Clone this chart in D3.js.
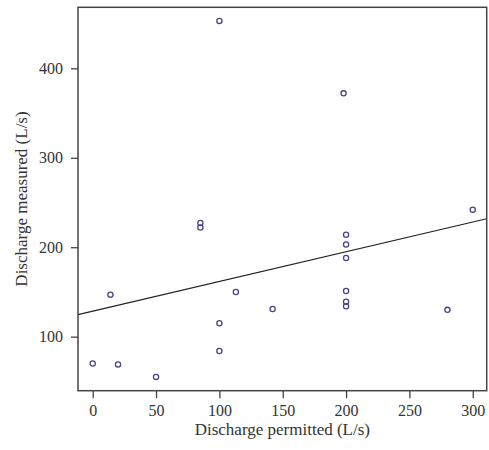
<!DOCTYPE html>
<html>
<head>
<meta charset="utf-8">
<script src="https://cdn.jsdelivr.net/npm/d3@7"></script>
<style>
  body { margin: 0; background: #fff; }
  text { font-family: "Liberation Serif", "DejaVu Serif", serif; fill: #333; }
</style>
</head>
<body>
<script>
// discharge permitted (L/s) and measured (L/s)
var permitted = [100, 198, 300, 85, 85, 14, 113, 100, 100, 0, 20, 50,
                 200, 200, 200, 200, 200, 200, 142, 280];
var measured  = [453, 372, 242, 227, 222, 147, 150, 115, 84, 70, 69, 55,
                 214, 203, 188, 151, 139, 134, 131, 130];
var xTicks = [0, 50, 100, 150, 200, 250, 300];
var yTicks = [100, 200, 300, 400];

var width = 489, height = 450;
var plotL = 78, plotT = 7.3, plotR = 486.7, plotB = 390.7;

var svg = d3.select("body")
    .append("svg")
    .attr("width", width)
    .attr("height", height);

var x = d3.scaleLinear().domain([-11.6, 311]).range([plotL, plotR]);
var y = d3.scaleLinear().domain([39.6, 468.2]).range([plotB, plotT]);

// least squares line through the points
var mx = d3.mean(permitted), my = d3.mean(measured);
var sxy = d3.sum(permitted, function(v, i) { return (v - mx) * (measured[i] - my); });
var sxx = d3.sum(permitted, function(v) { return (v - mx) * (v - mx); });
var slope = sxy / sxx, intercept = my - slope * mx;

var xAxis = svg.append("g")
    .attr("transform", "translate(0," + plotB + ")")
    .call(d3.axisBottom(x).tickValues(xTicks).tickSize(7.5).tickPadding(6).tickSizeOuter(0));
var yAxis = svg.append("g")
    .attr("transform", "translate(" + plotL + ",0)")
    .call(d3.axisLeft(y).tickValues(yTicks).tickSize(7).tickPadding(8).tickSizeOuter(0));

[xAxis, yAxis].forEach(function(a) {
    a.select(".domain").remove();
    a.selectAll(".tick line").attr("stroke", "#444").attr("stroke-width", 1.3);
    a.selectAll(".tick text")
        .attr("font-size", 16)
        .attr("font-family", "Liberation Serif, serif")
        .attr("fill", "#333");
});

// regression line across the whole frame
var x0 = x.domain()[0], x1 = x.domain()[1];
svg.append("line")
    .attr("x1", x(x0)).attr("y1", y(intercept + slope * x0))
    .attr("x2", x(x1)).attr("y2", y(intercept + slope * x1))
    .attr("stroke", "#222")
    .attr("stroke-width", 1.2);

svg.selectAll(".pt")
    .data(permitted)
    .enter()
    .append("circle")
    .attr("class", "pt")
    .attr("cx", function(d) { return x(d); })
    .attr("cy", function(d, i) { return y(measured[i]); })
    .attr("r", 2.6)
    .attr("fill", "none")
    .attr("stroke", "#4d4386")
    .attr("stroke-width", 1.3);

svg.append("rect")
    .attr("x", plotL).attr("y", plotT)
    .attr("width", plotR - plotL).attr("height", plotB - plotT)
    .attr("fill", "none")
    .attr("stroke", "#444")
    .attr("stroke-width", 1.5);

svg.append("text")
    .attr("x", (plotL + plotR) / 2)
    .attr("y", 435)
    .attr("text-anchor", "middle")
    .attr("font-size", 17)
    .text("Discharge permitted (L/s)");

svg.append("text")
    .attr("transform", "translate(27," + ((plotT + plotB) / 2) + ") rotate(-90)")
    .attr("text-anchor", "middle")
    .attr("font-size", 17)
    .text("Discharge measured (L/s)");
</script>
</body>
</html>
